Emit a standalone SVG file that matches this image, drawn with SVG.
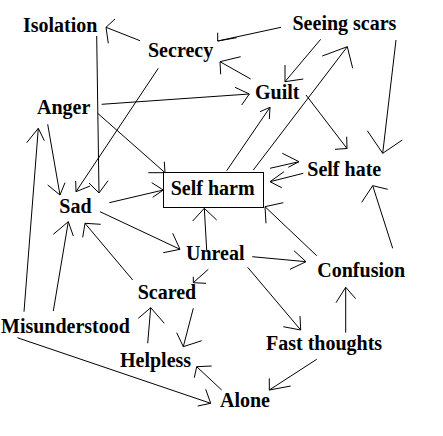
<svg xmlns="http://www.w3.org/2000/svg" width="443" height="436" viewBox="0 0 443 436">
<style>
text{font-family:"Liberation Serif","Times New Roman",serif;font-weight:bold;font-size:20px;fill:#000}
.c path{fill:none;stroke:#000;stroke-width:1}
.box{fill:#fff;stroke:#000;stroke-width:1}
</style>
<rect width="443" height="436" fill="#fff"/>
<g class="c" id="connectors">
<path d="M140,40.7 L106,27.3 M115,19 L106,27.3 L108.3,43.3"/>
<path d="M96.7,36 L99,193 M89,183 L99,193 L108,180.7"/>
<path d="M158.3,68.3 L76,191.7 M75.7,181 L76,191.7 L90,186"/>
<path d="M101.7,104.3 L249.3,94 M235,87.3 L249.3,94 L241.7,105"/>
<path d="M97.7,113.3 L165,172.7 M164.3,161.7 L165,172.7 L148.3,172.7"/>
<path d="M47.7,124.3 L60,195 M47.7,185 L60,195 L65,182.7"/>
<path d="M24,311.7 L38.3,128.3 M26.7,142.7 L38.3,128.3 L44.3,140.7"/>
<path d="M109.3,202.7 L163.3,190 M151.7,182.7 L163.3,190 L152.7,197.3"/>
<path d="M100,211.7 L180,249.3 M172.7,233.3 L180,249.3 L163.3,252.7"/>
<path d="M53.3,311 L68.3,221.7 M53.3,234.3 L68.3,221.7 L73.3,236"/>
<path d="M132.7,280 L85,223.3 M82.7,237.3 L85,223.3 L100.7,224.3"/>
<path d="M208.3,269.3 L193.3,282.7 M193.3,276.7 L193.3,282.7 L206,283.3"/>
<path d="M193.3,308.3 L183.3,346.7 M176.7,332.7 L183.3,346.7 L201.7,340.7"/>
<path d="M147.7,343.3 L150.7,307.7 M138.3,318.3 L150.7,307.7 L164.3,323.3"/>
<path d="M17.3,337.7 L210.7,403.3 M205.7,389.3 L210.7,403.3 L197.7,406"/>
<path d="M221.7,390 L196.7,366.7 M211.7,366 L196.7,366.7 L194.3,377.7"/>
<path d="M316.7,359.3 L269.3,390 M269.3,378.3 L269.3,390 L290.7,386"/>
<path d="M345.7,332.7 L345.7,287.3 M336,302.7 L345.7,287.3 L355.7,298.7"/>
<path d="M247.7,267.3 L300.7,330 M283.3,326.7 L300.7,330 L300,316"/>
<path d="M252.3,256.7 L306,261.7 M294,250.7 L306,261.7 L290,269.3"/>
<path d="M316.7,255.7 L265,206.7 M283.3,202.7 L265,206.7 L266,223.3"/>
<path d="M392.7,248.3 L372.7,185.7 M361.7,202.3 L372.7,185.7 L387.7,189.3"/>
<path d="M206.7,250 L204.3,208.3 M192.7,221 L204.3,208.3 L216.7,220"/>
<path d="M281,27.3 L217.7,41 M217.7,32.7 L217.7,41 L236.7,37.7"/>
<path d="M250.7,79 L220,61.7 M240.7,56.7 L220,61.7 L220.7,74.3"/>
<path d="M320.7,39.3 L285,81.7 M285,65 L285,81.7 L303.3,79"/>
<path d="M226.7,170.7 L270,107.3 M260,111.7 L270,107.3 L269.3,119"/>
<path d="M253.3,170 L347.3,46.7 M322.3,56 L347.3,46.7 L352.7,68.3"/>
<path d="M306,95 L347,148.5 M346.7,136.7 L347,148.5 L335,149.3"/>
<path d="M396,40 L382.7,153.3 M367.3,130.7 L382.7,153.3 L402.3,140"/>
<path d="M270,168.3 L299,161.7 M282.3,153.3 L299,161.7 L288.3,167.3"/>
<path d="M303.3,173.3 L270,181.7 M284,171.7 L270,181.7 L281.7,187.7"/>
</g>
<g id="isolation"><text x="23" y="32">Isolation</text></g>
<g id="secrecy"><text x="148" y="56.5">Secrecy</text></g>
<g id="seeing-scars"><text x="292.5" y="30">Seeing scars</text></g>
<g id="guilt"><text x="255" y="99.3">Guilt</text></g>
<g id="anger"><text x="37" y="114">Anger</text></g>
<g id="self-hate"><text x="307.3" y="175.7">Self hate</text></g>
<g id="self-harm"><rect class="box" x="163.5" y="172.5" width="100" height="35"/><text x="170.7" y="195">Self harm</text></g>
<g id="sad"><text x="59.3" y="213.3">Sad</text></g>
<g id="unreal"><text x="186" y="260">Unreal</text></g>
<g id="confusion"><text x="317.3" y="276.7">Confusion</text></g>
<g id="scared"><text x="137.7" y="299.3">Scared</text></g>
<g id="misunderstood"><text x="1" y="332.7">Misunderstood</text></g>
<g id="fast-thoughts"><text x="266" y="350">Fast thoughts</text></g>
<g id="helpless"><text x="120" y="367.3">Helpless</text></g>
<g id="alone"><text x="220" y="406.7">Alone</text></g>
</svg>
